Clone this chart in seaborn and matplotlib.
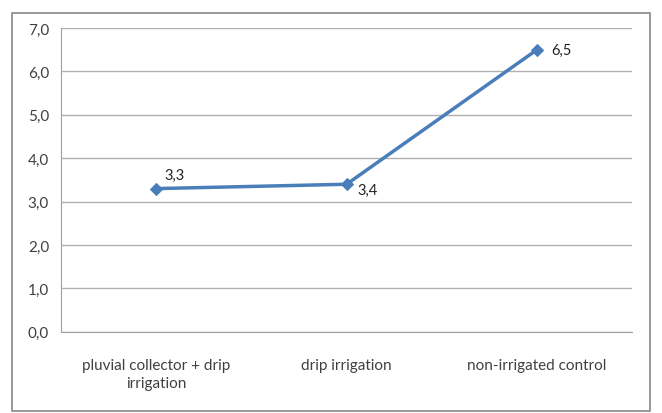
"""Line chart of treatment values with data labels."""

import matplotlib.pyplot as plt
import pandas as pd
import seaborn as sns
from matplotlib.patches import Rectangle
from matplotlib.ticker import FuncFormatter, MultipleLocator

TREATMENTS = ["pluvial collector + drip\nirrigation", "drip irrigation", "non-irrigated control"]
VALUES = [3.3, 3.4, 6.5]
LABEL_OFFSETS = [(6, 10), (8, -4), (10, 0)]

LINE_COLOR = "#4a7ebb"
TEXT_COLOR = "#404040"

sns.set_style("white")
plt.rcParams["font.family"] = ["Lato", "DejaVu Sans"]

df = pd.DataFrame({"treatment": TREATMENTS, "value": VALUES})
df["pos"] = range(len(df))

fig = plt.figure(figsize=(6.62, 4.14), dpi=100)
ax = fig.add_axes([0.092, 0.196, 0.863, 0.734])

sns.lineplot(
    data=df, x="pos", y="value", ax=ax,
    color=LINE_COLOR, linewidth=2.5, marker="D", markersize=6,
    markeredgecolor=LINE_COLOR,
)

for (_, row), (dx, dy) in zip(df.iterrows(), LABEL_OFFSETS):
    ax.annotate(
        f"{row['value']:.1f}".replace(".", ","),
        (row["pos"], row["value"]),
        xytext=(dx, dy), textcoords="offset points",
        ha="left", va="center", fontsize=10.5, color="#222222",
    )

ax.set_xlim(-0.5, len(df) - 0.5)
ax.set_ylim(0, 7)
ax.yaxis.set_major_locator(MultipleLocator(1))
ax.yaxis.set_major_formatter(FuncFormatter(lambda v, _: f"{v:.1f}".replace(".", ",")))
ax.set_xticks(df["pos"])
ax.set_xticklabels(TREATMENTS, fontsize=11, color=TEXT_COLOR, linespacing=1.3)
ax.set_xticks([p - 0.5 for p in range(len(df) + 1)], minor=True)
ax.tick_params(axis="x", which="major", length=0, pad=19)
ax.tick_params(axis="x", which="minor", length=5, color="#a0a0a0", width=1)
ax.tick_params(axis="y", length=5, color="#a0a0a0", labelsize=11, labelcolor=TEXT_COLOR)
ax.grid(axis="y", color="#b0b0b0", linewidth=1)
ax.set_axisbelow(True)
ax.set_xlabel("")
ax.set_ylabel("")

for side in ["top", "right"]:
    ax.spines[side].set_visible(False)
for side in ["left", "bottom"]:
    ax.spines[side].set_color("#a0a0a0")

fig.patches.append(Rectangle(
    (12 / 662, 2 / 414), 638 / 662, 398 / 414,
    transform=fig.transFigure, fill=False, edgecolor="#888888", linewidth=1.2,
))

fig.savefig("out.png", dpi=100)
